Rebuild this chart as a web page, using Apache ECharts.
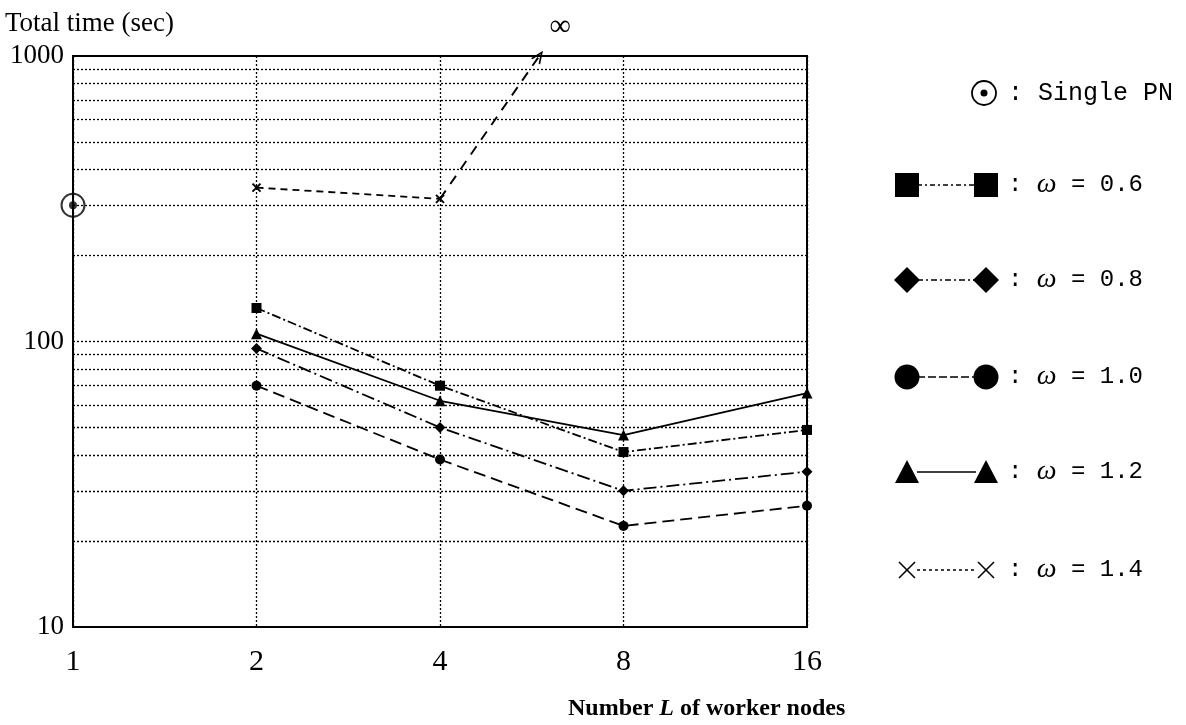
<!DOCTYPE html>
<html>
<head>
<meta charset="utf-8">
<script src="https://cdn.jsdelivr.net/npm/echarts@6/dist/echarts.min.js"></script>
<style>
  html, body { margin: 0; padding: 0; background: #fff; }
  #chart { width: 1186px; height: 725px; }
</style>
</head>
<body>
<div id="chart"></div>
<script>
// Number of worker nodes L (x positions of the measured runs)
const workerNodes = [2, 4, 8, 16];

// Total time (sec) for each relaxation factor omega
const omega06 = [131, 70, 41, 49];
const omega08 = [94.5, 50, 30, 35];
const omega10 = [70, 38.6, 22.6, 26.6];
const omega12 = [106.5, 62, 47, 66];
const omega14 = [346, 316];          // only L = 2 and L = 4 converge
const omega14Diverge = [[4, 316], [5.82, 1000]]; // runs off to infinity beyond L = 4

// Single processing node reference run
const singlePN = [[1, 300]];

// Axis ticks and the dotted reference levels
const xTicks = [1, 2, 4, 8, 16];
const yTicks = [10, 100, 1000];
const gridValues = [20, 30, 40, 50, 60, 70, 80, 90, 100, 200, 300, 400, 500, 600, 700, 800, 900];

const omegaLabels = ['0.6', '0.8', '1.0', '1.2', '1.4'];
const omegaSeries = [omega06, omega08, omega10, omega12, omega14];

const SERIF = "'Liberation Serif', 'DejaVu Serif', serif";
const MONO = "'Liberation Mono', 'DejaVu Sans Mono', monospace";
const CROSS = 'path://M0,0L10,10M10,0L0,10';
const CHEVRON = 'path://M0,10L5,0L10,10L8.4,10L5,3.2L1.6,10Z';

const markStyles = [
  { symbol: 'rect',     size: 10, dash: [9, 3, 2, 3] },
  { symbol: 'diamond',  size: 11, dash: [13, 4, 2, 4] },
  { symbol: 'circle',   size: 10, dash: [12, 6] },
  { symbol: 'triangle', size: 11, dash: 'solid' },
  { symbol: CROSS,      size: 8,  dash: [7, 5] }
];

const chart = echarts.init(document.getElementById('chart'), null, { renderer: 'canvas' });

const series = [];

// dotted horizontal reference levels
series.push({
  type: 'line',
  name: 'levels',
  data: [],
  z: 1,
  silent: true,
  markLine: {
    silent: true,
    symbol: ['none', 'none'],
    label: { show: false },
    lineStyle: { color: '#000', width: 1.3, type: [2, 2] },
    emphasis: { disabled: true },
    data: gridValues.map(v => ({ yAxis: v }))
  }
});

omegaSeries.forEach((vals, i) => {
  const st = markStyles[i];
  series.push({
    type: 'line',
    name: '\u03c9 = ' + omegaLabels[i],
    data: vals.map((v, k) => [workerNodes[k], v]),
    symbol: st.symbol,
    symbolSize: st.size,
    z: 3,
    lineStyle: { color: '#000', width: 1.8, type: st.dash },
    itemStyle: { color: '#000', borderColor: '#000', borderWidth: st.symbol === CROSS ? 2 : 0 },
    emphasis: { disabled: true }
  });
});

// divergence of omega = 1.4 beyond L = 4
series.push({
  type: 'line',
  name: 'divergence',
  data: [],
  z: 3,
  markLine: {
    silent: true,
    symbol: ['none', CHEVRON],
    symbolSize: [11, 13],
    lineStyle: { color: '#000', width: 1.9, type: [10, 8] },
    label: {
      show: true,
      position: 'end',
      formatter: '\u221e',
      color: '#000',
      fontSize: 30,
      fontFamily: SERIF,
      offset: [18, -10]
    },
    emphasis: { disabled: true },
    data: [[{ coord: omega14Diverge[0] }, { coord: omega14Diverge[1] }]]
  }
});

// Single PN: dot inside a ring
series.push({
  type: 'scatter',
  name: 'Single PN ring',
  data: singlePN,
  symbol: 'circle',
  symbolSize: 23,
  z: 4,
  itemStyle: { color: 'rgba(0,0,0,0)', borderColor: '#000', borderWidth: 2 },
  emphasis: { disabled: true }
});
series.push({
  type: 'scatter',
  name: 'Single PN',
  data: singlePN,
  symbol: 'circle',
  symbolSize: 8,
  z: 5,
  itemStyle: { color: '#000' },
  emphasis: { disabled: true }
});

// legend drawn as symbol—line—symbol rows
const legendRowsY = [185, 280, 377, 472, 570];
const legendXL = 907, legendXR = 986, legendTextX = 1008;
const legendLineDash = [[5, 3, 2, 3], [6, 3, 2, 3], [8, 3], null, [3, 3]];

function legendSymbol(kind, cx, cy) {
  const fill = { fill: '#000' };
  switch (kind) {
    case 0: return { type: 'rect', shape: { x: cx - 12, y: cy - 12, width: 24, height: 24 }, style: fill };
    case 1: return { type: 'polygon', shape: { points: [[cx, cy - 13], [cx + 13, cy], [cx, cy + 13], [cx - 13, cy]] }, style: fill };
    case 2: return { type: 'circle', shape: { cx: cx, cy: cy, r: 12.5 }, style: fill };
    case 3: return { type: 'polygon', shape: { points: [[cx, cy - 12], [cx + 12, cy + 11], [cx - 12, cy + 11]] }, style: fill };
    default: return { type: 'group', children: [
      { type: 'line', shape: { x1: cx - 8, y1: cy - 8, x2: cx + 8, y2: cy + 8 }, style: { stroke: '#000', lineWidth: 1.6 } },
      { type: 'line', shape: { x1: cx + 8, y1: cy - 8, x2: cx - 8, y2: cy + 8 }, style: { stroke: '#000', lineWidth: 1.6 } }
    ] };
  }
}

const legendGraphics = [];
omegaLabels.forEach((lab, i) => {
  const y = legendRowsY[i];
  legendGraphics.push({
    type: 'line',
    shape: { x1: legendXL + 10, y1: y, x2: legendXR - 10, y2: y },
    style: { stroke: '#000', lineWidth: 1.5, lineDash: legendLineDash[i] }
  });
  legendGraphics.push(legendSymbol(i, legendXL, y));
  legendGraphics.push(legendSymbol(i, legendXR, y));
  legendGraphics.push({
    type: 'text',
    x: legendTextX, y: y,
    style: {
      text: ': {w|\u03c9} = ' + lab,
      fill: '#000',
      fontSize: 24,
      fontFamily: MONO,
      verticalAlign: 'middle',
      rich: { w: { fontStyle: 'italic', fontFamily: SERIF, fontSize: 28, fill: '#000' } }
    }
  });
});
legendGraphics.push({ type: 'circle', shape: { cx: 984, cy: 93, r: 12 }, style: { fill: 'none', stroke: '#000', lineWidth: 1.8 } });
legendGraphics.push({ type: 'circle', shape: { cx: 984, cy: 93, r: 3.5 }, style: { fill: '#000' } });
legendGraphics.push({
  type: 'text',
  x: legendTextX, y: 93,
  style: { text: ': Single PN', fill: '#000', fontSize: 25, fontFamily: MONO, verticalAlign: 'middle' }
});

chart.setOption({
  animation: false,
  backgroundColor: '#fff',
  title: [
    {
      text: 'Total time (sec)',
      left: 0, top: 5,
      textStyle: { color: '#000', fontSize: 27, fontWeight: 'normal', fontFamily: SERIF }
    },
    {
      text: 'Number {i|L} of worker nodes',
      left: 563, top: 692,
      textStyle: {
        color: '#000', fontSize: 24, fontWeight: 'bold', fontFamily: SERIF,
        rich: { i: { fontStyle: 'italic', fontWeight: 'bold', fontSize: 24, fontFamily: SERIF, color: '#000' } }
      }
    }
  ],
  grid: {
    left: 73, right: 379, top: 56, bottom: 98,
    show: true, borderColor: '#000', borderWidth: 2, backgroundColor: 'transparent'
  },
  xAxis: {
    type: 'log',
    logBase: 2,
    min: xTicks[0],
    max: xTicks[xTicks.length - 1],
    axisLine: { show: true, lineStyle: { color: '#000', width: 2 } },
    axisTick: { show: false },
    axisLabel: {
      color: '#000', fontSize: 30, fontFamily: SERIF, margin: 20,
      formatter: v => String(Math.round(v))
    },
    splitLine: { show: true, lineStyle: { color: '#000', width: 1.3, type: [2, 2] } }
  },
  yAxis: {
    type: 'log',
    logBase: 10,
    min: yTicks[0],
    max: yTicks[yTicks.length - 1],
    axisLine: { show: true, lineStyle: { color: '#000', width: 2 } },
    axisTick: { show: false },
    axisLabel: {
      color: '#000', fontSize: 27, fontFamily: SERIF, margin: 9,
      formatter: v => String(Math.round(v))
    },
    splitLine: { show: false }
  },
  series: series,
  graphic: legendGraphics
});
</script>
</body>
</html>
